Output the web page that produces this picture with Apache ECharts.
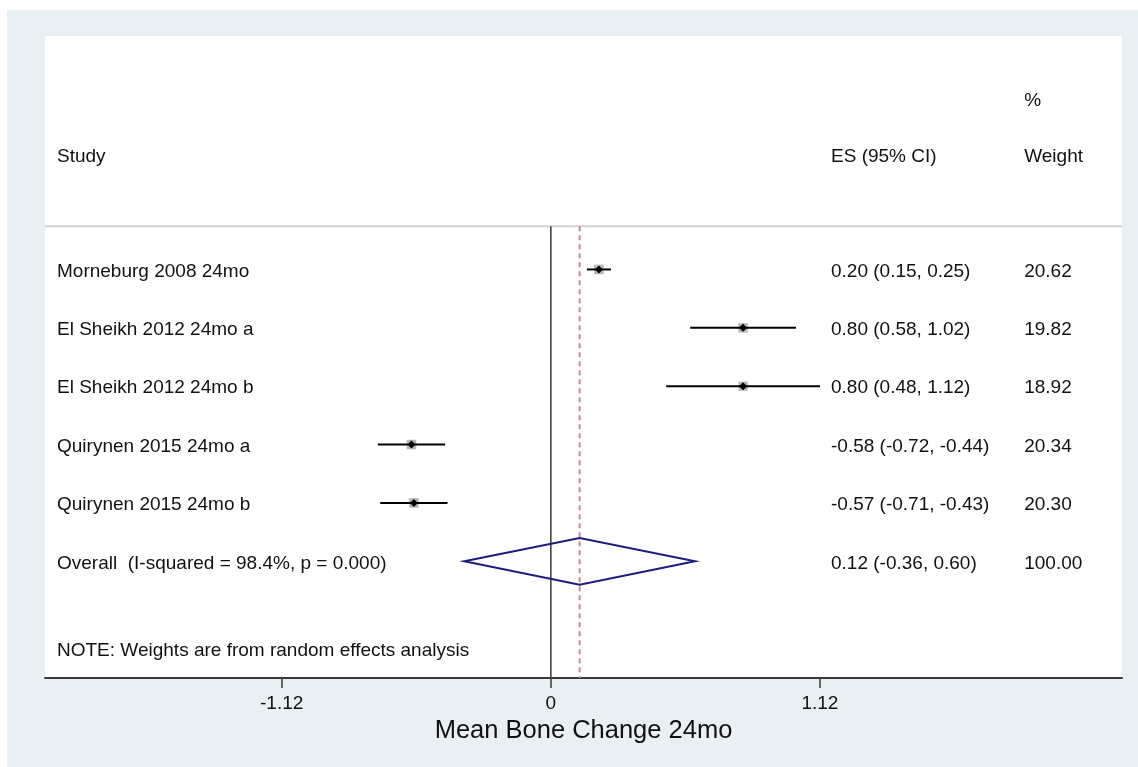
<!DOCTYPE html>
<html>
<head>
<meta charset="utf-8">
<script src="https://cdn.jsdelivr.net/npm/echarts@6/dist/echarts.min.js"></script>
<style>
  html, body { margin: 0; padding: 0; background: #ffffff; }
  #chart { width: 1138px; height: 767px; }
</style>
</head>
<body>
<div id="chart"></div>
<script>
// Study rows of the forest plot
const studies = [
  'Morneburg 2008 24mo',
  'El Sheikh 2012 24mo a',
  'El Sheikh 2012 24mo b',
  'Quirynen 2015 24mo a',
  'Quirynen 2015 24mo b'
];
const effect = [0.20, 0.80, 0.80, -0.58, -0.57];
const ciLow  = [0.15, 0.58, 0.48, -0.72, -0.71];
const ciHigh = [0.25, 1.02, 1.12, -0.44, -0.43];
const weights = [20.62, 19.82, 18.92, 20.34, 20.30];

// Pooled (random effects) estimate
const overallLabel = 'Overall  (I-squared = 98.4%, p = 0.000)';
const overallEffect = 0.12;
const overallLow = -0.36;
const overallHigh = 0.60;
const overallWeight = 100.00;

// Axis ticks and text
const tickValues = [-1.12, 0, 1.12];
const axisTitle = 'Mean Bone Change 24mo';
const noteText = 'NOTE: Weights are from random effects analysis';
const headers = { study: 'Study', es: 'ES (95% CI)', weightTop: '%', weight: 'Weight' };

const FONT = '"Liberation Sans", Arial, Helvetica, sans-serif';
const TEXT_COLOR = '#111111';

// column anchors (x in data units) and header rows (y in row units)
const COL_STUDY = -2.055, COL_ES = 1.166, COL_WT = 1.97;
const ROW_HEADER = -1.97, ROW_PCT = -2.93, ROW_RULE = -0.74, ROW_NOTE = 6.5;
const Y_MIN = -4, Y_MAX = 7;

const fmt = v => v.toFixed(2);
const esText = (e, l, h) => fmt(e) + ' (' + fmt(l) + ', ' + fmt(h) + ')';

const overallRow = studies.length;

// text table
const textRows = [];
textRows.push([COL_STUDY, ROW_HEADER, headers.study]);
textRows.push([COL_ES, ROW_HEADER, headers.es]);
textRows.push([COL_WT, ROW_PCT, headers.weightTop]);
textRows.push([COL_WT, ROW_HEADER, headers.weight]);
studies.forEach((s, i) => {
  textRows.push([COL_STUDY, i, s]);
  textRows.push([COL_ES, i, esText(effect[i], ciLow[i], ciHigh[i])]);
  textRows.push([COL_WT, i, fmt(weights[i])]);
});
textRows.push([COL_STUDY, overallRow, overallLabel]);
textRows.push([COL_ES, overallRow, esText(overallEffect, overallLow, overallHigh)]);
textRows.push([COL_WT, overallRow, fmt(overallWeight)]);
textRows.push([COL_STUDY, ROW_NOTE, noteText]);

const ciData = studies.map((s, i) => [i, ciLow[i], ciHigh[i], effect[i], weights[i]]);

const chart = echarts.init(document.getElementById('chart'), null, { renderer: 'canvas' });

chart.setOption({
  backgroundColor: '#ffffff',
  animation: false,
  graphic: [{
    type: 'rect',
    left: 7, top: 10,
    shape: { width: 1131, height: 757 },
    style: { fill: '#e9f0f3' },
    z: -10
  }],
  grid: {
    left: 45, right: 16, top: 36, bottom: 89,
    show: true, backgroundColor: '#ffffff', borderWidth: 0
  },
  xAxis: {
    type: 'value',
    min: -2.105, max: 2.377,
    name: axisTitle,
    nameLocation: 'middle',
    nameGap: 40,
    nameTextStyle: { fontFamily: FONT, fontSize: 25.5, color: TEXT_COLOR },
    axisLine: { show: true, onZero: false, lineStyle: { color: '#3a3a3a', width: 2 } },
    axisTick: { show: true, length: 10, customValues: tickValues, lineStyle: { color: '#3a3a3a', width: 1.5 } },
    axisLabel: {
      customValues: tickValues,
      margin: 16,
      fontFamily: FONT, fontSize: 19, color: TEXT_COLOR,
      formatter: v => (v === 0 ? '0' : v.toFixed(2))
    },
    splitLine: { show: false }
  },
  yAxis: {
    type: 'value', inverse: true, min: Y_MIN, max: Y_MAX, show: false
  },
  series: [
    {
      // header rule and reference lines (null effect, pooled estimate)
      type: 'custom',
      coordinateSystem: 'cartesian2d',
      data: [[0]],
      silent: true,
      renderItem: (params, api) => {
        const cs = params.coordSys;
        const ruleY = api.coord([0, ROW_RULE])[1];
        const bottomY = api.coord([0, Y_MAX])[1];
        const zeroX = api.coord([0, 0])[0];
        const pooledX = api.coord([overallEffect, 0])[0];
        return {
          type: 'group',
          children: [
            { type: 'line', shape: { x1: cs.x, y1: ruleY, x2: cs.x + cs.width, y2: ruleY },
              style: { stroke: '#d2d2d2', lineWidth: 2 } },
            { type: 'line', shape: { x1: zeroX, y1: ruleY, x2: zeroX, y2: bottomY },
              style: { stroke: '#444444', lineWidth: 1.6 } },
            { type: 'line', shape: { x1: pooledX, y1: ruleY, x2: pooledX, y2: bottomY },
              style: { stroke: '#c48a8f', lineWidth: 2, lineDash: [5, 4] } }
          ]
        };
      }
    },
    {
      // confidence intervals with weight boxes and point markers
      type: 'custom',
      coordinateSystem: 'cartesian2d',
      data: ciData,
      encode: { x: [1, 2, 3], y: 0 },
      silent: true,
      z: 3,
      renderItem: (params, api) => {
        const row = api.value(0);
        const a = api.coord([api.value(1), row]);
        const b = api.coord([api.value(2), row]);
        const c = api.coord([api.value(3), row]);
        const box = 9.5 * Math.sqrt(api.value(4) / 20);
        const d = 4;
        return {
          type: 'group',
          children: [
            { type: 'rect', shape: { x: c[0] - box / 2, y: c[1] - box / 2, width: box, height: box },
              style: { fill: '#b8b8b8' } },
            { type: 'line', shape: { x1: a[0], y1: a[1], x2: b[0], y2: b[1] },
              style: { stroke: '#000000', lineWidth: 2 } },
            { type: 'polygon', shape: { points: [[c[0] - d, c[1]], [c[0], c[1] - d], [c[0] + d, c[1]], [c[0], c[1] + d]] },
              style: { fill: '#000000' } }
          ]
        };
      }
    },
    {
      // pooled estimate diamond
      type: 'custom',
      coordinateSystem: 'cartesian2d',
      data: [[overallRow, overallLow, overallHigh, overallEffect]],
      encode: { x: [1, 2, 3], y: 0 },
      silent: true,
      z: 3,
      renderItem: (params, api) => {
        const row = api.value(0);
        const l = api.coord([api.value(1), row]);
        const h = api.coord([api.value(2), row]);
        const top = api.coord([api.value(3), row - 0.4]);
        const bot = api.coord([api.value(3), row + 0.4]);
        return {
          type: 'polygon',
          shape: { points: [l, top, h, bot] },
          style: { fill: 'none', stroke: '#1c1c80', lineWidth: 2 }
        };
      }
    },
    {
      // table text
      type: 'custom',
      coordinateSystem: 'cartesian2d',
      data: textRows,
      encode: { x: 0, y: 1 },
      silent: true,
      z: 4,
      renderItem: (params, api) => {
        const p = api.coord([api.value(0), api.value(1)]);
        return {
          type: 'text',
          x: p[0], y: p[1] + 2,
          style: {
            text: textRows[params.dataIndex][2],
            fontFamily: FONT, fontSize: 19, fill: TEXT_COLOR,
            align: 'left', verticalAlign: 'middle'
          }
        };
      }
    }
  ]
});
</script>
</body>
</html>
